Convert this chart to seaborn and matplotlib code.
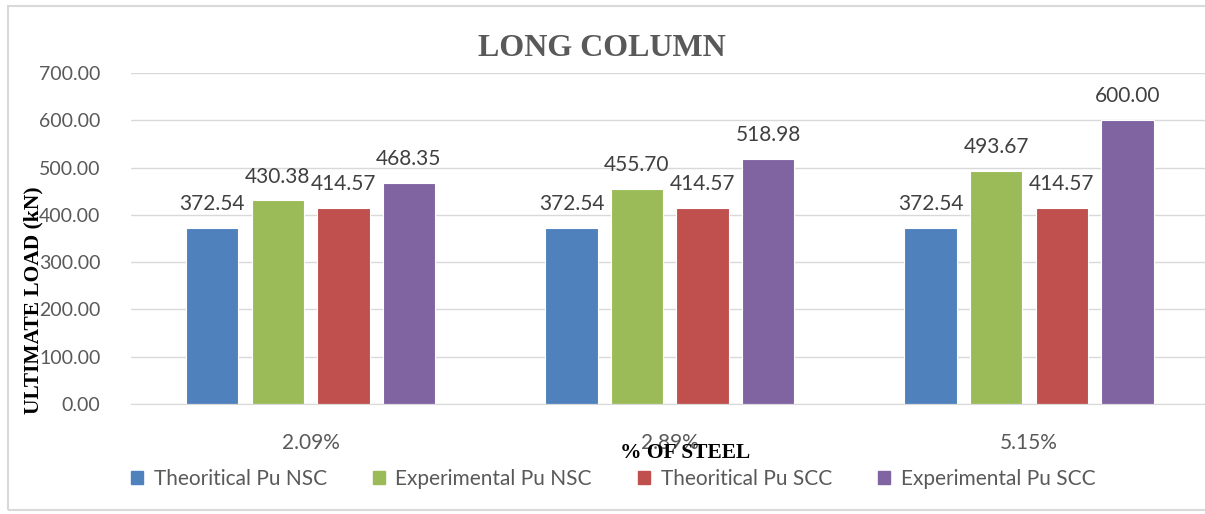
import pandas as pd
import seaborn as sns
import matplotlib.pyplot as plt
from matplotlib.patches import Rectangle

# data
steel = ['2.09%', '2.89%', '5.15%']
series = ['Theoritical Pu NSC', 'Experimental Pu NSC', 'Theoritical Pu SCC', 'Experimental Pu SCC']
theo_nsc = [372.54, 372.54, 372.54]
exp_nsc = [430.38, 455.70, 493.67]
theo_scc = [414.57, 414.57, 414.57]
exp_scc = [468.35, 518.98, 600.00]
colors = ['#4F81BD', '#9BBB59', '#C0504D', '#8064A2']

df = pd.DataFrame({
    'Steel': steel * 4,
    'Load': theo_nsc + exp_nsc + theo_scc + exp_scc,
    'Series': [s for s in series for _ in steel],
})

sns.set_style('white')
plt.rcParams['font.family'] = ['Lato', 'DejaVu Sans']

fig = plt.figure(figsize=(12.05, 5.14), dpi=100)
ax = fig.add_axes([131 / 1205, 110 / 514, 1 - 131 / 1205, 331 / 514])

sns.barplot(data=df, x='Steel', y='Load', hue='Series', hue_order=series, order=steel,
            palette=colors, saturation=1, width=0.73, gap=0.2, edgecolor='white',
            linewidth=0.8, legend=False, ax=ax)

# value labels on top of each bar
for container in ax.containers:
    ax.bar_label(container, fmt='%.2f', padding=10, fontsize=15, color='#404040')

ax.set_ylim(0, 700)
ax.set_xlim(-0.5, 2.49)
ax.set_yticks(range(0, 701, 100))
ax.set_yticklabels([f'{v:.2f}' for v in range(0, 701, 100)])
ax.tick_params(axis='y', length=0, pad=22, labelsize=14, labelcolor='#595959')
ax.tick_params(axis='x', length=0, pad=21, labelsize=15, labelcolor='#595959')
ax.grid(True, axis='y', color='#D9D9D9', linewidth=1)
ax.set_axisbelow(True)
for side in ['top', 'right', 'left']:
    ax.spines[side].set_visible(False)
ax.spines['bottom'].set_color('#D9D9D9')
ax.set_xlabel('')
ax.set_ylabel('')

# titles in a serif face like the original
fig.text(602 / 1205, 1 - 48 / 514, 'LONG COLUMN', ha='center', va='center',
         family='Liberation Serif', weight='bold', fontsize=23, color='#595959')
fig.text(33 / 1205, 1 - 300 / 514, 'ULTIMATE LOAD (kN)', ha='center', va='center',
         rotation=90, family='Liberation Serif', weight='bold', fontsize=15.5, color='black')
fig.text(685 / 1205, 1 - 453 / 514, '% OF STEEL', ha='center', va='center',
         family='Liberation Serif', weight='bold', fontsize=15.5, color='black')

handles = [Rectangle((0, 0), 1, 1, color=c) for c in colors]
fig.legend(handles, series, loc='center', bbox_to_anchor=(613 / 1205, 1 - 479 / 514),
           ncol=4, frameon=False, fontsize=15, labelcolor='#595959',
           handlelength=0.6, handleheight=0.6, handletextpad=0.5, columnspacing=2.2)

# outer chart border
fig.patches.append(Rectangle((8 / 1205, 4 / 514), 1.1, 1 - 10 / 514, transform=fig.transFigure,
                             fill=False, edgecolor='#D9D9D9', linewidth=1.5))

fig.savefig('out.png', dpi=100)
